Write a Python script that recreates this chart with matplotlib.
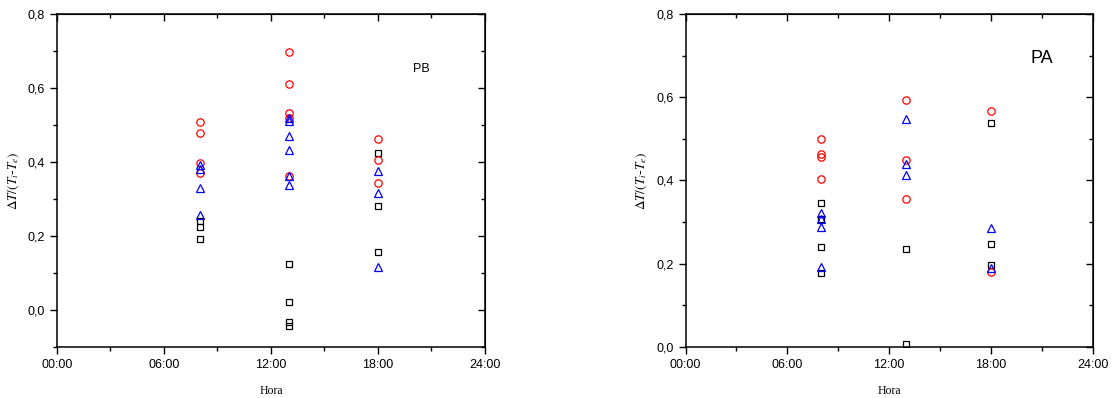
import matplotlib
matplotlib.use("Agg")
import matplotlib.pyplot as plt
from matplotlib.ticker import FuncFormatter, MultipleLocator

# ---- PB panel (left) ----
pb_sq_h = [8, 8, 8, 13, 13, 13, 13, 18, 18, 18]
pb_sq_v = [0.240, 0.225, 0.192, 0.124, 0.023, -0.031, -0.042, 0.425, 0.282, 0.158]
pb_ci_h = [8, 8, 8, 8, 13, 13, 13, 13, 13, 18, 18, 18]
pb_ci_v = [0.508, 0.479, 0.397, 0.371, 0.696, 0.611, 0.533, 0.518, 0.363, 0.462, 0.405, 0.344]
pb_tr_h = [8, 8, 8, 8, 13, 13, 13, 13, 13, 13, 18, 18, 18]
pb_tr_v = [0.393, 0.380, 0.331, 0.256, 0.518, 0.511, 0.470, 0.433, 0.363, 0.338, 0.376, 0.317, 0.116]

# ---- PA panel (right) ----
pa_sq_h = [8, 8, 8, 8, 13, 13, 18, 18, 18]
pa_sq_v = [0.347, 0.307, 0.241, 0.179, 0.235, 0.008, 0.538, 0.247, 0.198]
pa_ci_h = [8, 8, 8, 8, 13, 13, 13, 18, 18]
pa_ci_v = [0.500, 0.464, 0.457, 0.404, 0.594, 0.449, 0.355, 0.567, 0.181]
pa_tr_h = [8, 8, 8, 8, 13, 13, 13, 18, 18]
pa_tr_v = [0.323, 0.307, 0.288, 0.193, 0.547, 0.440, 0.412, 0.285, 0.189]

hour_ticks = [0, 6, 12, 18, 24]

plt.rcParams['mathtext.fontset'] = 'stix'
tick_font = 'Liberation Sans'
fig = plt.figure(figsize=(11.13, 3.98), dpi=100)


def hhmm(x, pos):
    return '%02d:00' % int(round(x))


def comma(y, pos):
    return ('%.1f' % y).replace('.', ',')


def panel(rect, sq, ci, tr, ylim, label, lx, ly, lsize):
    ax = fig.add_axes(rect)
    ax.plot(sq[0], sq[1], 's', ls='none', mfc='none', mec='black', ms=4.3, mew=0.9)
    ax.plot(ci[0], ci[1], 'o', ls='none', mfc='none', mec='red', ms=5.3, mew=0.9)
    ax.plot(tr[0], tr[1], '^', ls='none', mfc='none', mec='blue', ms=6, mew=0.9)
    ax.set_xlim(0, 24)
    ax.set_ylim(*ylim)
    ax.set_xticks(hour_ticks)
    ax.xaxis.set_minor_locator(MultipleLocator(3))
    ax.yaxis.set_major_locator(MultipleLocator(0.2))
    ax.yaxis.set_minor_locator(MultipleLocator(0.1))
    ax.xaxis.set_major_formatter(FuncFormatter(hhmm))
    ax.yaxis.set_major_formatter(FuncFormatter(comma))
    ax.tick_params(which='both', direction='out', width=1, labelsize=9,
                   top=False, right=False)
    ax.tick_params(which='major', length=5)
    ax.tick_params(which='minor', length=3)
    for t in ax.get_xticklabels() + ax.get_yticklabels():
        t.set_fontfamily(tick_font)
    for s in ax.spines.values():
        s.set_linewidth(1.1)
    # mirrored inward ticks on top and right
    top = ax.secondary_xaxis('top')
    top.set_xticks(hour_ticks)
    top.xaxis.set_minor_locator(MultipleLocator(3))
    top.tick_params(which='both', direction='in', width=1, labeltop=False)
    top.tick_params(which='major', length=5)
    top.tick_params(which='minor', length=3)
    right = ax.secondary_yaxis('right')
    right.yaxis.set_major_locator(MultipleLocator(0.2))
    right.yaxis.set_minor_locator(MultipleLocator(0.1))
    right.tick_params(which='both', direction='in', width=1, labelright=False)
    right.tick_params(which='major', length=5)
    right.tick_params(which='minor', length=3)
    ax.set_xlabel('Hora', family='Liberation Serif', fontsize=8.5, labelpad=10)
    ax.set_ylabel(r'$\Delta T/(T_i$-$T_e)$', fontsize=9.5, labelpad=5)
    ax.text(lx, ly, label, family=tick_font, fontsize=lsize, ha='center', va='center')
    return ax


panel([0.0512, 0.128, 0.3845, 0.837], (pb_sq_h, pb_sq_v), (pb_ci_h, pb_ci_v),
      (pb_tr_h, pb_tr_v), (-0.1, 0.8), 'PB', 20.45, 0.65, 9)
panel([0.616, 0.128, 0.3657, 0.837], (pa_sq_h, pa_sq_v), (pa_ci_h, pa_ci_v),
      (pa_tr_h, pa_tr_v), (0.0, 0.8), 'PA', 21.0, 0.694, 13)

fig.savefig('out.png', dpi=100)
